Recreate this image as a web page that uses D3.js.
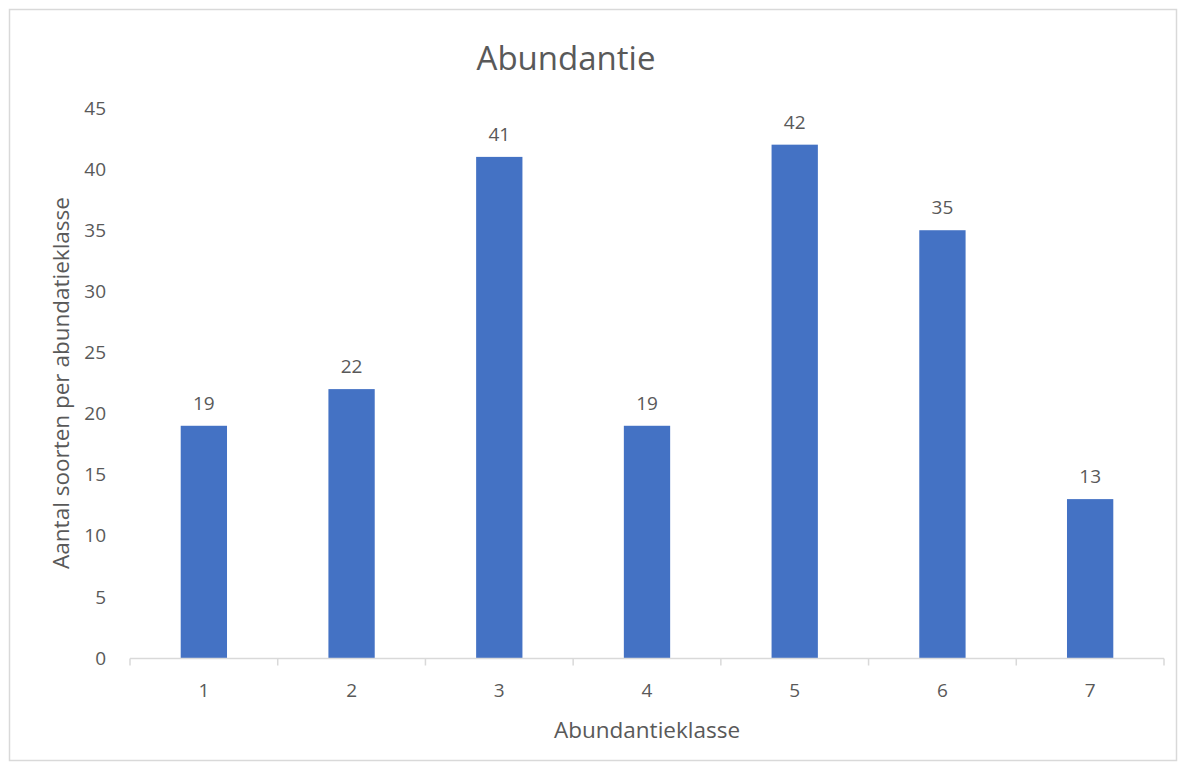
<!DOCTYPE html>
<html>
<head>
<meta charset="utf-8">
<script src="https://cdn.jsdelivr.net/npm/d3@7"></script>
<style>
  html, body { margin: 0; padding: 0; background: #fff; }
  svg { display: block; }
  text { font-family: "Open Sans", "Noto Sans", sans-serif; fill: #595959; }
</style>
</head>
<body>
<svg id="chart" width="1186" height="770"></svg>
<script>
const categories = ["1", "2", "3", "4", "5", "6", "7"];
const values = [19, 22, 41, 19, 42, 35, 13];
const yTicks = [0, 5, 10, 15, 20, 25, 30, 35, 40, 45];

const svg = d3.select("#chart");
const W = 1186, H = 770;
const plot = { left: 130, right: 1164, top: 108, bottom: 658 };

// chart frame
svg.append("rect")
  .attr("x", 9.5).attr("y", 9.5)
  .attr("width", W - 19).attr("height", H - 19)
  .attr("fill", "#fff").attr("stroke", "#d9d9d9").attr("stroke-width", 1.5);

const x = d3.scaleBand().domain(categories).range([plot.left, plot.right]).paddingInner(0).paddingOuter(0);
const y = d3.scaleLinear().domain([0, 45]).range([plot.bottom, plot.top]);

// bar width from a gap width of 219%
const barW = x.bandwidth() / 3.19;

// y axis labels (no line, no gridlines)
svg.append("g").selectAll("text").data(yTicks).join("text")
  .attr("x", 106).attr("y", d => y(d))
  .attr("dy", "0.35em")
  .attr("text-anchor", "end")
  .attr("font-size", 19)
  .text(d => d);

// bars
svg.append("g").selectAll("rect").data(values).join("rect")
  .attr("x", (d, i) => x(categories[i]) + (x.bandwidth() - barW) / 2)
  .attr("y", d => y(d))
  .attr("width", barW)
  .attr("height", d => y(0) - y(d))
  .attr("fill", "#4472c4");

// value labels
svg.append("g").selectAll("text").data(values).join("text")
  .attr("x", (d, i) => x(categories[i]) + x.bandwidth() / 2)
  .attr("y", d => y(d) - 16)
  .attr("text-anchor", "middle")
  .attr("font-size", 19)
  .attr("fill", "#404040")
  .text(d => d);

// x axis
const gx = svg.append("g").attr("transform", `translate(0,${plot.bottom + 0.5})`);
gx.append("line")
  .attr("x1", plot.left).attr("x2", plot.right)
  .attr("stroke", "#d9d9d9").attr("stroke-width", 1.5);
const bounds = categories.map(c => x(c)).concat([plot.right]);
gx.selectAll("line.tick").data(bounds).join("line")
  .attr("class", "tick")
  .attr("x1", d => d).attr("x2", d => d)
  .attr("y1", 0).attr("y2", 7)
  .attr("stroke", "#d9d9d9").attr("stroke-width", 1.5);
gx.selectAll("text").data(categories).join("text")
  .attr("x", d => x(d) + x.bandwidth() / 2)
  .attr("y", 38)
  .attr("text-anchor", "middle")
  .attr("font-size", 19)
  .text(d => d);

// titles
svg.append("text")
  .attr("x", 566).attr("y", 70)
  .attr("text-anchor", "middle")
  .attr("font-size", 33)
  .text("Abundantie");

svg.append("text")
  .attr("x", 647).attr("y", 738)
  .attr("text-anchor", "middle")
  .attr("font-size", 22.5)
  .text("Abundantieklasse");

svg.append("text")
  .attr("transform", "translate(69,383) rotate(-90)")
  .attr("text-anchor", "middle")
  .attr("font-size", 22.5)
  .text("Aantal soorten per abundatieklasse");
</script>
</body>
</html>
